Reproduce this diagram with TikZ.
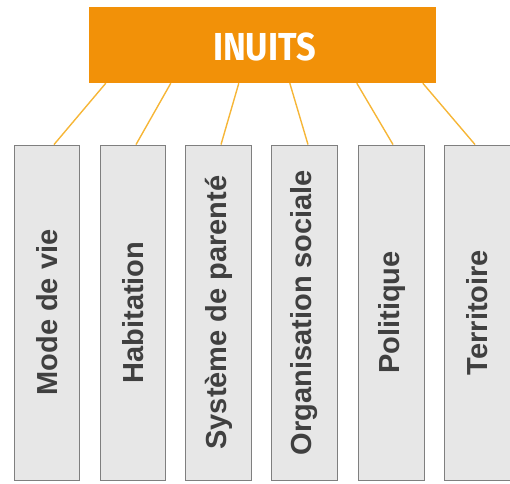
\documentclass[tikz,border=0pt]{standalone}
\usepackage{fontspec}
\setmainfont{Liberation Sans}
\newfontfamily\titlefont{Fira Sans}[FakeStretch=0.88]
\definecolor{inuitorange}{HTML}{F29108}
\definecolor{linkyellow}{HTML}{F6B637}
\definecolor{boxgray}{HTML}{E7E7E7}
\definecolor{edgegray}{HTML}{7F7F7F}
\definecolor{textgray}{HTML}{404040}
\tikzset{
  topbox/.style={fill=inuitorange, minimum width=347pt, minimum height=76pt,
    inner sep=0pt},
  toptext/.style={text=white, font=\titlefont\bfseries\fontsize{39}{39}\selectfont},
  themebox/.style={draw=edgegray, line width=0.9pt, fill=boxgray, minimum width=65.5pt,
    minimum height=335pt, inner sep=0pt},
  themetext/.style={rotate=90, text=textgray, font=\bfseries\fontsize{29}{29}\selectfont},
  link/.style={draw=linkyellow, line width=1.4pt}
}
\begin{document}
\begin{tikzpicture}[x=1pt, y=-1pt]
  \useasboundingbox (0,0) rectangle (510,483);
  \node[topbox] (inuits) at (262.5,45) {};
  \node[toptext] at ([xshift=2pt,yshift=-2pt]inuits.center) {INUITS};
  % les six themes
  \node[themebox] (mode) at (47,312.5) {};
  \node[themebox] (habitat) at (133,312.5) {};
  \node[themebox] (parente) at (218.5,312.5) {};
  \node[themebox] (orga) at (304.5,312.5) {};
  \node[themebox] (politique) at (391.5,312.5) {};
  \node[themebox] (territoire) at (477.5,312.5) {};
  \node[themetext] at (mode) {Mode de vie};
  \node[themetext] at (habitat) {Habitation};
  \node[themetext] at (parente) {Système de parenté};
  \node[themetext] at (orga) {Organisation sociale};
  \node[themetext] at (politique) {Politique};
  \node[themetext] at (territoire) {Territoire};
  % liens
  \foreach \from/\to/\off in {17/mode/7, 82/habitat/3, 150/parente/2.5,
      201/orga/3.5, 268/politique/1.5, 334/territoire/-2.5}
    \draw[link] ([xshift=\from pt]inuits.south west) -- ([xshift=\off pt]\to.north);
\end{tikzpicture}
\end{document}
